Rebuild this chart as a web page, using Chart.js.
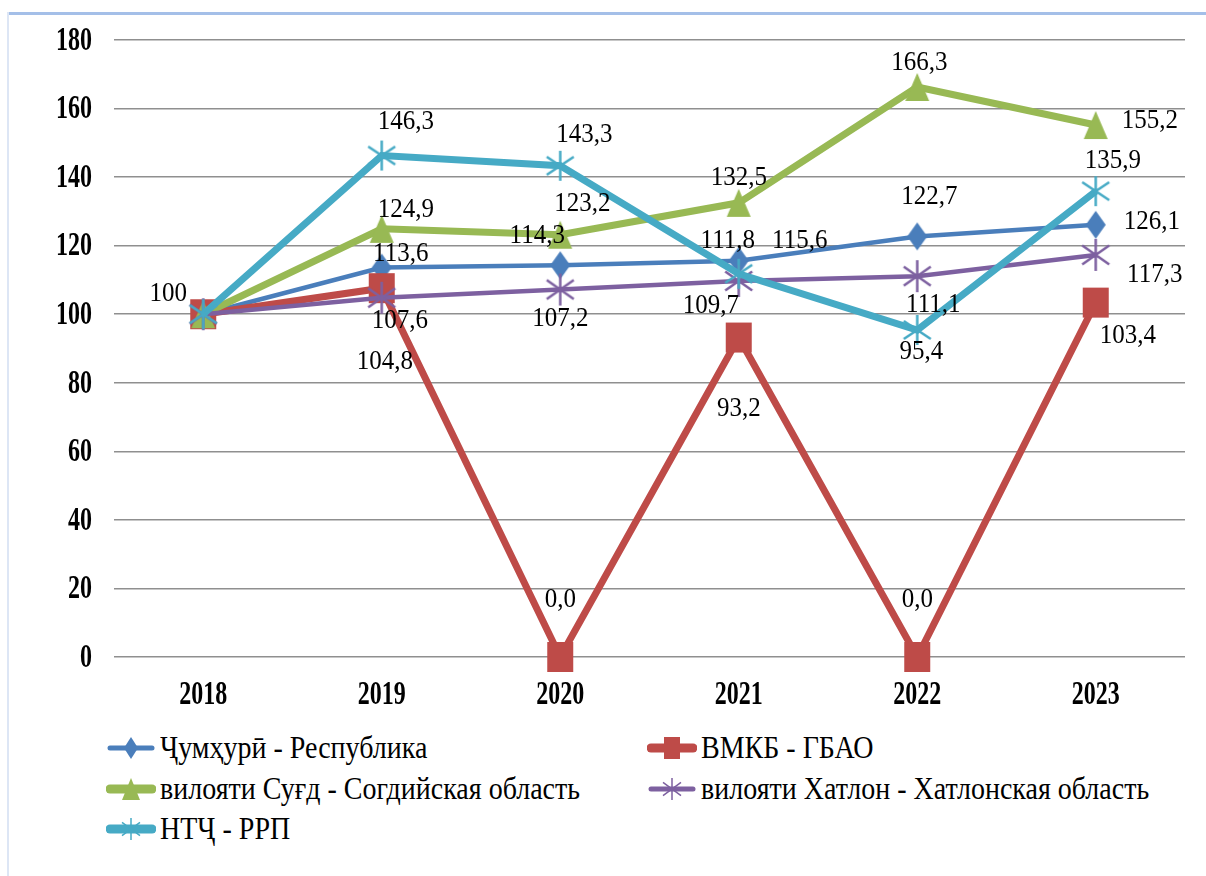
<!DOCTYPE html>
<html>
<head>
<meta charset="utf-8">
<script src="https://cdn.jsdelivr.net/npm/chart.js@4.4.1/dist/chart.umd.min.js"></script>
<style>
  html, body { margin: 0; padding: 0; background: #fff; }
  #wrap { position: relative; width: 1206px; height: 876px; overflow: hidden; }
  #frameTop { position: absolute; left: 8px; top: 12px; width: 1198px; height: 3px; background: #a4bfe8; }
  #frameLeft { position: absolute; left: 7px; top: 12px; width: 2px; height: 864px; background: #dde6f5; }
  #chartBox { position: absolute; left: 0; top: 0; width: 1206px; height: 720px; }
  .leg { position: absolute; display: flex; align-items: center; font-family: "Liberation Serif", serif; font-size: 28px; color: #000; white-space: nowrap; }
  .leg canvas { margin-right: 4px; }
  .leg span { display: inline-block; transform: scaleY(1.12); transform-origin: left center; }
</style>
</head>
<body>
<div id="wrap">
  <div id="frameTop"></div>
  <div id="frameLeft"></div>
  <div id="chartBox"><canvas id="lineChart" width="1206" height="720"></canvas></div>
  <div id="legend"></div>
</div>
<script>
/* ----- dati ----- */
const years = ["2018", "2019", "2020", "2021", "2022", "2023"];
const seriesNames = [
  "Ҷумҳурӣ - Республика",
  "ВМКБ - ГБАО",
  "вилояти Суғд - Согдийская область",
  "вилояти Хатлон - Хатлонская область",
  "НТҶ - РРП"
];
const respublika = [100, 113.6, 114.3, 115.6, 122.7, 126.1];
const gbao = [100, 107.6, 0, 93.2, 0, 103.4];
const sugd = [100, 124.9, 123.2, 132.5, 166.3, 155.2];
const khatlon = [100, 104.8, 107.2, 109.7, 111.1, 117.3];
const rrp = [100, 146.3, 143.3, 111.8, 95.4, 135.9];
const yTicks = [0, 20, 40, 60, 80, 100, 120, 140, 160, 180];

/* ----- stile ----- */
const serif = "'Liberation Serif', serif";
const colors = ["#4a7ebb", "#be4b48", "#98b954", "#7d60a0", "#46aac5"];
const lineWidths = [4.5, 7, 7, 4.5, 7];

// spostamento delle etichette rispetto al punto (px)
const labelOffsets = [
  [[-35, -20], [19, -14], [-23, -29], [61, -20], [12, -40], [56, -3]],
  [null, [18, 33], [0, -57], [0, 71], [0, -57], [32, 33]],
  [null, [24, -19], [22, -31], [0, -25], [2, -24], [54, -4]],
  [null, [3, 64], [0, 29], [-28, 25], [16, 29], [59, 20]],
  [null, [24, -34], [24, -31], [-11, -33], [4, 22], [17, -30]]
];

/* ----- marker ----- */
function makeMarker(type, color, w, h, lw) {
  const c = document.createElement("canvas");
  c.width = w + 4;
  c.height = h + 4;
  const ctx = c.getContext("2d");
  const x0 = 2, y0 = 2, cx = c.width / 2, cy = c.height / 2;
  ctx.fillStyle = color;
  ctx.strokeStyle = color;
  ctx.lineWidth = lw || 2;
  if (type === "diamond") {
    ctx.beginPath();
    ctx.moveTo(cx, y0);
    ctx.lineTo(x0 + w, cy);
    ctx.lineTo(cx, y0 + h);
    ctx.lineTo(x0, cy);
    ctx.closePath();
    ctx.fill();
  } else if (type === "square") {
    ctx.fillRect(x0, y0, w, h);
  } else if (type === "triangle") {
    ctx.beginPath();
    ctx.moveTo(cx, y0);
    ctx.lineTo(x0 + w, y0 + h);
    ctx.lineTo(x0, y0 + h);
    ctx.closePath();
    ctx.fill();
  } else if (type === "star") {
    ctx.beginPath();
    ctx.moveTo(cx, y0);
    ctx.lineTo(cx, y0 + h);
    ctx.moveTo(x0, y0 + h * 0.2);
    ctx.lineTo(x0 + w, y0 + h * 0.8);
    ctx.moveTo(x0 + w, y0 + h * 0.2);
    ctx.lineTo(x0, y0 + h * 0.8);
    ctx.stroke();
  }
  return c;
}

const markers = [
  makeMarker("diamond", colors[0], 20, 28),
  makeMarker("square", colors[1], 26, 30),
  makeMarker("triangle", colors[2], 24, 28),
  makeMarker("star", colors[3], 27, 32, 2.5),
  makeMarker("star", colors[4], 27, 30, 2.5)
];

const allSeries = [respublika, gbao, sugd, khatlon, rrp];

const datasets = allSeries.map((vals, i) => ({
  label: seriesNames[i],
  data: vals,
  borderColor: colors[i],
  backgroundColor: colors[i],
  borderWidth: lineWidths[i],
  pointStyle: markers[i],
  pointRadius: 14,
  tension: 0,
  clip: false,
  order: 5 - i
}));

function fmt(v, i) {
  return i === 0 ? String(v) : v.toFixed(1).replace(".", ",");
}

/* ----- plugin: etichette e assi ----- */
const labelsPlugin = {
  id: "labelsPlugin",
  afterDraw(chart) {
    const ctx = chart.ctx;
    const yScale = chart.scales.y;
    const xScale = chart.scales.x;
    ctx.save();
    ctx.fillStyle = "#000";

    // tick asse y
    ctx.font = "bold 24px " + serif;
    ctx.textAlign = "right";
    ctx.textBaseline = "middle";
    yScale.ticks.forEach((t) => {
      const py = yScale.getPixelForValue(t.value);
      ctx.save();
      ctx.translate(92, py + 1);
      ctx.scale(1, 1.42);
      ctx.fillText(String(t.value), 0, 0);
      ctx.restore();
    });

    // tick asse x
    ctx.textAlign = "center";
    years.forEach((yr, i) => {
      const px = xScale.getPixelForValue(i);
      ctx.save();
      ctx.translate(px, 695);
      ctx.scale(1, 1.42);
      ctx.fillText(yr, 0, 0);
      ctx.restore();
    });

    // etichette dei valori
    ctx.font = "25px " + serif;
    chart.data.datasets.forEach((ds, di) => {
      const meta = chart.getDatasetMeta(di);
      meta.data.forEach((pt, i) => {
        const off = labelOffsets[di][i];
        if (!off) return;
        ctx.save();
        ctx.translate(pt.x + off[0], pt.y + off[1]);
        ctx.scale(1, 1.1);
        ctx.fillText(fmt(ds.data[i], i), 0, 0);
        ctx.restore();
      });
    });
    ctx.restore();
  }
};

new Chart("lineChart", {
  type: "line",
  data: { labels: years, datasets: datasets },
  options: {
    responsive: false,
    animation: false,
    layout: { padding: { top: 40, right: 14, left: 0, bottom: 0 } },
    plugins: {
      legend: { display: false },
      tooltip: { enabled: false }
    },
    scales: {
      x: {
        offset: true,
        grid: { display: false },
        border: { display: false },
        ticks: { display: false },
        afterFit: (s) => { s.height = 63; }
      },
      y: {
        min: 0,
        max: 180,
        afterBuildTicks: (s) => { s.ticks = yTicks.map((v) => ({ value: v })); },
        grid: { color: "#8f8f8f", lineWidth: 1.5, drawTicks: false },
        border: { display: false },
        ticks: { display: false },
        afterFit: (s) => { s.width = 114; }
      }
    }
  },
  plugins: [labelsPlugin]
});

/* ----- legenda ----- */
const legendPos = [
  [106, 748], [647, 748],
  [106, 789], [647, 789],
  [106, 829]
];
const legendMarkers = [
  makeMarker("diamond", colors[0], 14, 22),
  makeMarker("square", colors[1], 16, 22),
  makeMarker("triangle", colors[2], 18, 22),
  makeMarker("star", colors[3], 18, 22, 1.5),
  makeMarker("star", colors[4], 18, 22, 1.5)
];
const legendLineW = [5, 9, 9, 5, 9];
const legendBox = document.querySelector("#legend");
seriesNames.forEach((name, i) => {
  const item = document.createElement("div");
  item.className = "leg";
  item.style.left = legendPos[i][0] + "px";
  item.style.top = (legendPos[i][1] - 17) + "px";
  item.style.height = "34px";
  const c = document.createElement("canvas");
  c.width = 50;
  c.height = 30;
  const g = c.getContext("2d");
  g.strokeStyle = colors[i];
  g.lineWidth = legendLineW[i];
  g.lineCap = "round";
  g.beginPath();
  g.moveTo(4, 15);
  g.lineTo(46, 15);
  g.stroke();
  const m = legendMarkers[i];
  g.drawImage(m, 25 - m.width / 2, 15 - m.height / 2);
  item.appendChild(c);
  const t = document.createElement("span");
  t.textContent = name;
  item.appendChild(t);
  legendBox.appendChild(item);
});
</script>
</body>
</html>
